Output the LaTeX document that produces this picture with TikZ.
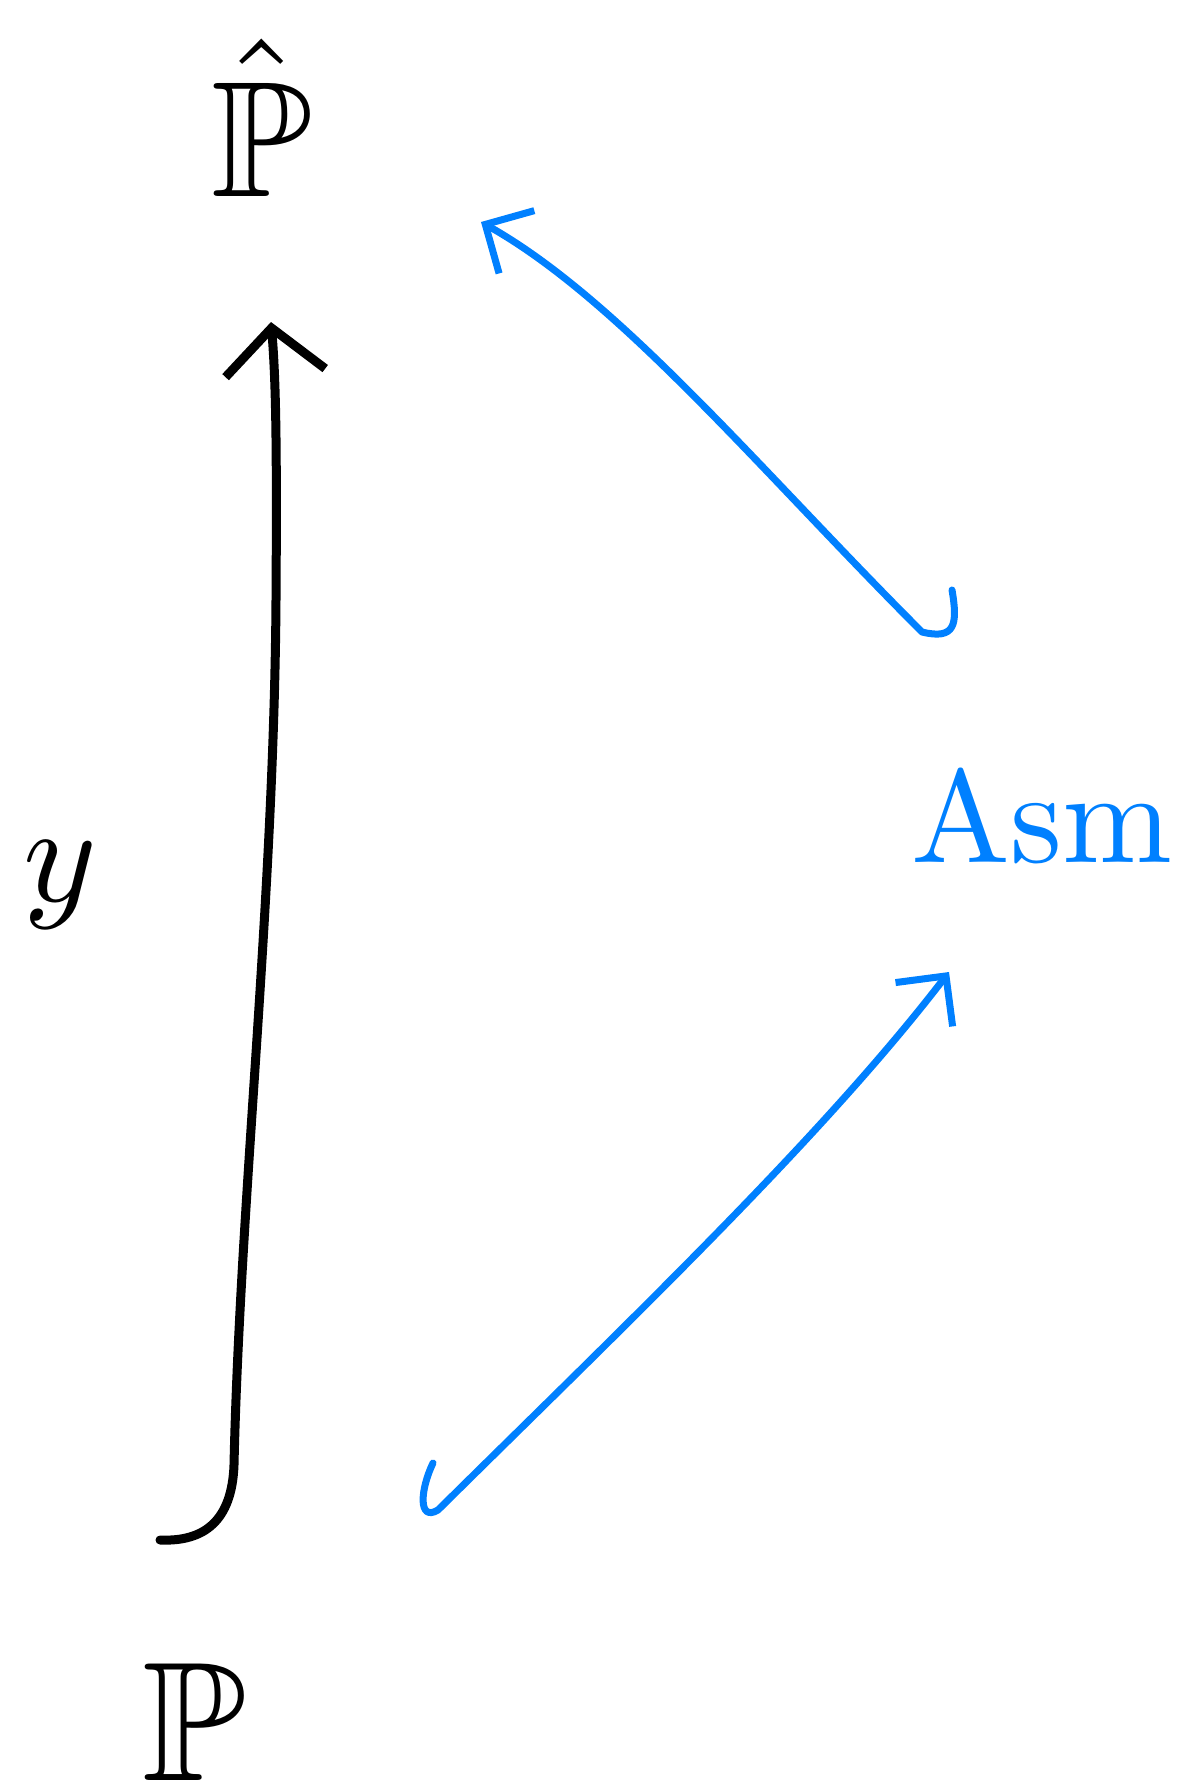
\documentclass[tikz,border=0pt]{standalone}
\usepackage{amssymb}
\usetikzlibrary{arrows.meta}
\definecolor{hblue}{RGB}{0,128,255}
\begin{document}
\begin{tikzpicture}[x=1pt,y=-1pt,line cap=round,line join=round,
  lbl/.style={inner sep=0pt,outer sep=0pt},
  blk/.style={draw=black,line width=9pt,-{Straight Barb[length=45pt,width=100pt]}},
  blu/.style={draw=hblue,line width=7pt,-{Straight Barb[length=36pt,width=72pt]}}]
\useasboundingbox (0,0) rectangle (1185,1789);
% labels
\node[lbl,scale=16.5] (phat) at (262,118) {$\hat{\mathbb{P}}$};
\node[lbl,scale=17] (p) at (194,1722) {$\mathbb{P}$};
\node[lbl,scale=13.2,text=hblue] (asm) at (1042,816) {Asm};
\node[lbl,scale=14] (ylab) at (60,885) {$y$};
% connector end points
\coordinate (bt) at (160,1540);
\coordinate (btip) at (271,322);
\coordinate (lt) at (433,1463);
\coordinate (ltip) at (949,972);
\coordinate (ut) at (952,590);
\coordinate (utip) at (481,222);
% black arrow
\draw[blk] (bt) .. controls (205,1542) and (232,1520) .. (234,1465)
  .. controls (240,1200) and (274,900) .. (276,600)
  .. controls (277,450) and (276,380) .. (btip);
% blue arrows
\draw[blu] (lt) .. controls (420,1490) and (418,1522) .. (438,1510)
  .. controls (620,1330) and (820,1140) .. (ltip);
\draw[blu] (ut) .. controls (958,625) and (955,640) .. (922,632)
  .. controls (760,470) and (620,300) .. (utip);
\end{tikzpicture}
\end{document}
